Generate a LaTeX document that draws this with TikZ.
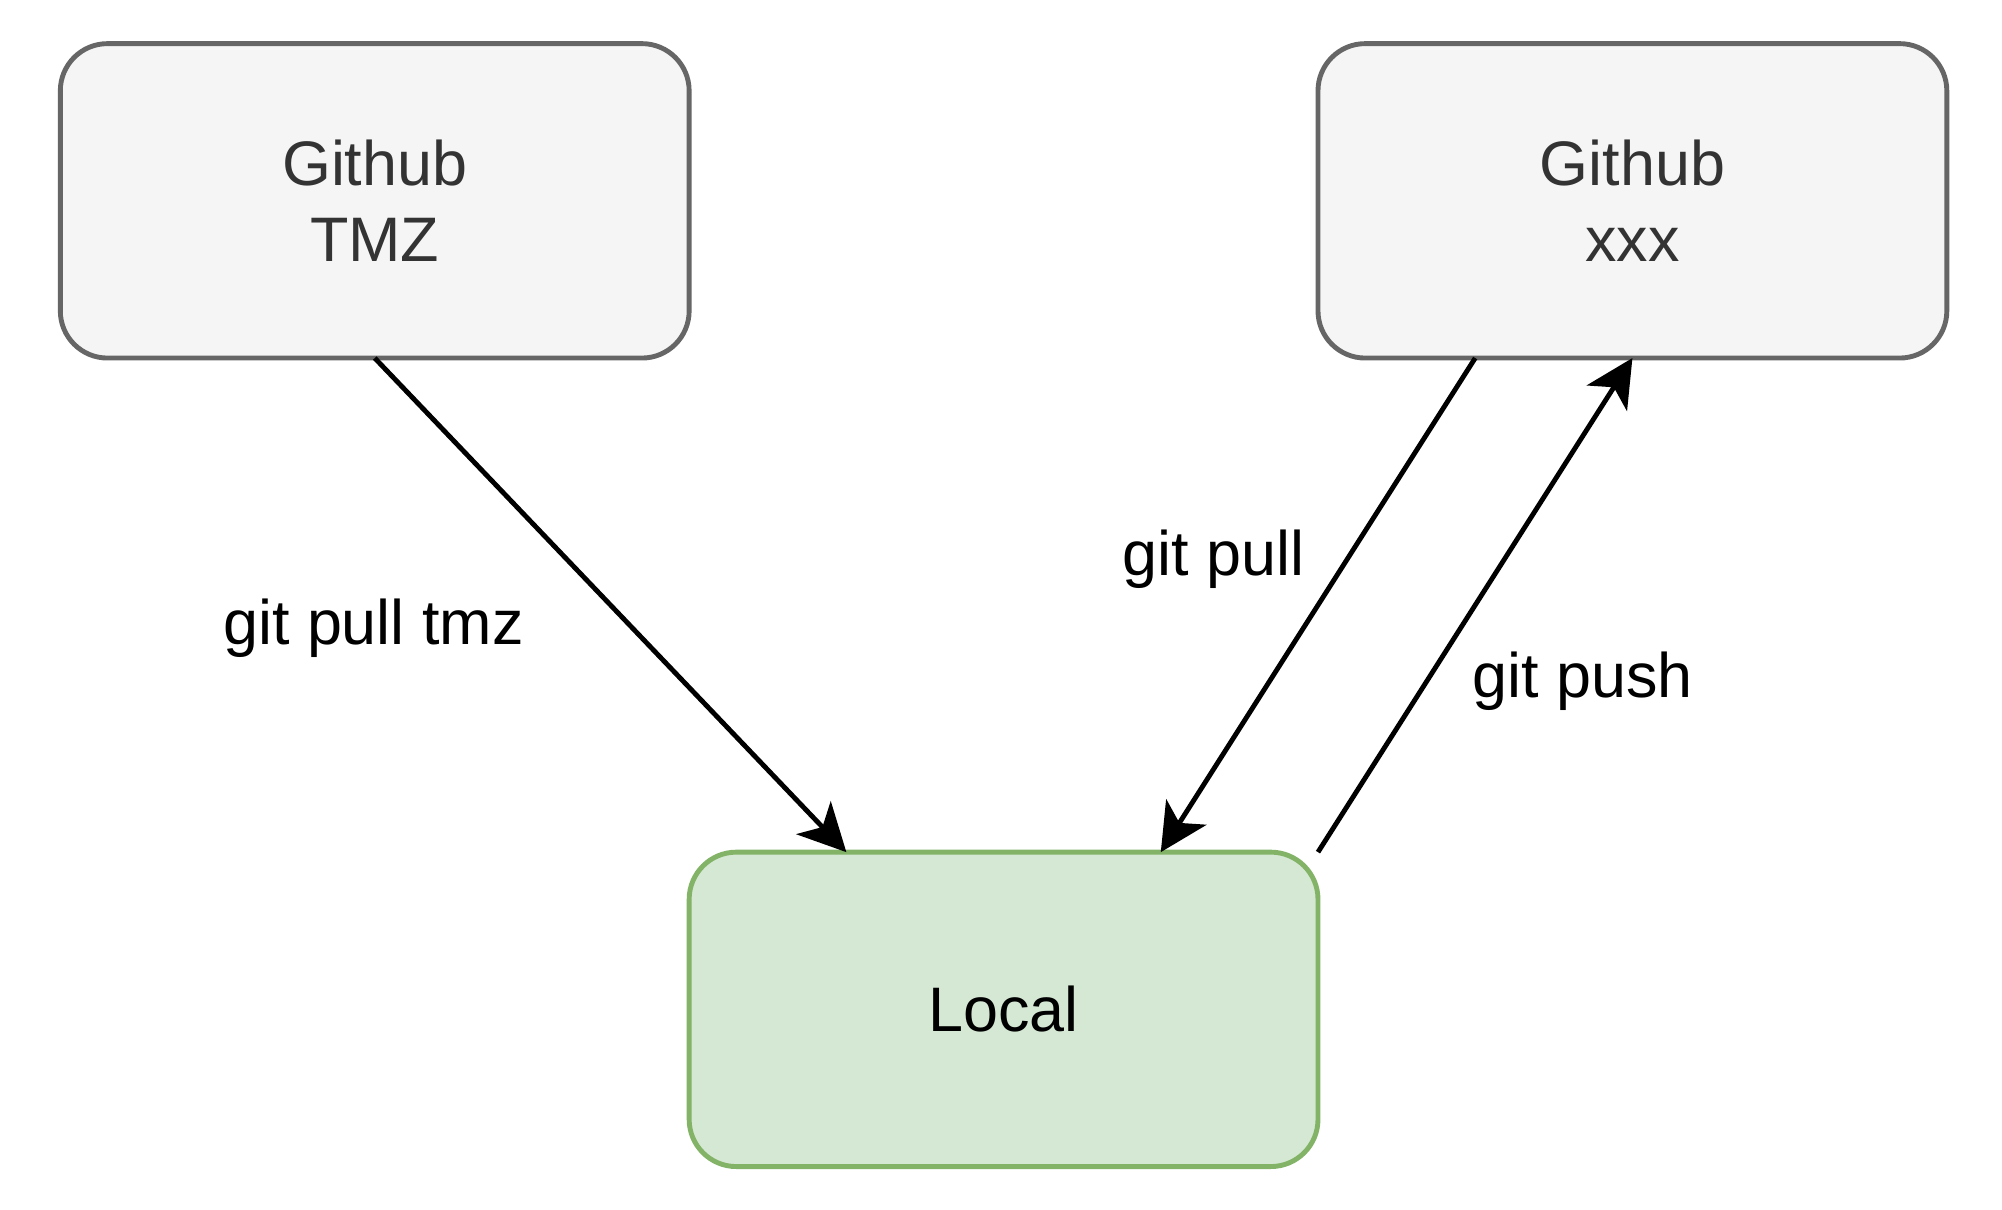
\documentclass[tikz,border=0pt]{standalone}
\usepackage{fontspec}
\setmainfont{Liberation Sans}
\usetikzlibrary{arrows.meta,calc}
\definecolor{grayfill}{HTML}{F5F5F5}
\definecolor{graystroke}{HTML}{666666}
\definecolor{graytext}{HTML}{333333}
\definecolor{greenfill}{HTML}{D5E8D4}
\definecolor{greenstroke}{HTML}{82B366}
\begin{document}
\begin{tikzpicture}[x=1pt,y=-1pt,
  box/.style={rectangle, rounded corners=36.75pt, minimum width=490pt, minimum height=245pt,
    inner sep=0pt, outer sep=0pt, line width=3.8pt, align=center,
    font=\fontsize{49pt}{58.8pt}\selectfont},
  remote/.style={box, draw=graystroke, fill=grayfill, text=graytext},
  localbox/.style={box, draw=greenstroke, fill=greenfill, text=black},
  conn/.style={line width=3.8pt, -{Stealth[length=37pt,width=37pt,inset=10pt]}},
  lbl/.style={anchor=base, inner sep=0pt, text=black, font=\fontsize{49pt}{58.8pt}\selectfont}
]
\useasboundingbox (0,0) rectangle (1560,942.1);
\fill[white] (0,0) rectangle (1560,942.1);
% boxes
\node[remote] (tmz) at (292,156.5) {Github\\TMZ};
\node[remote] (xxx) at (1272,156.5) {Github\\xxx};
\node[localbox] (loc) at (782,786.5) {Local};
% connection points
\coordinate (locA) at ($(loc.north west)!0.25!(loc.north east)$);
\coordinate (locB) at ($(loc.north west)!0.75!(loc.north east)$);
\coordinate (xxxA) at ($(xxx.south west)!0.25!(xxx.south east)$);
% connectors
\draw[conn] (tmz.south) -- (locA);
\draw[conn] (xxxA) -- (locB);
\draw[conn] (loc.north east) -- (xxx.south);
% labels
\node[lbl] (lpulltmz) at (291,502) {git pull tmz};
\node[lbl] (lpull) at (945.5,448.7) {git pull};
\node[lbl] (lpush) at (1233.3,543.3) {git push};
\end{tikzpicture}
\end{document}
